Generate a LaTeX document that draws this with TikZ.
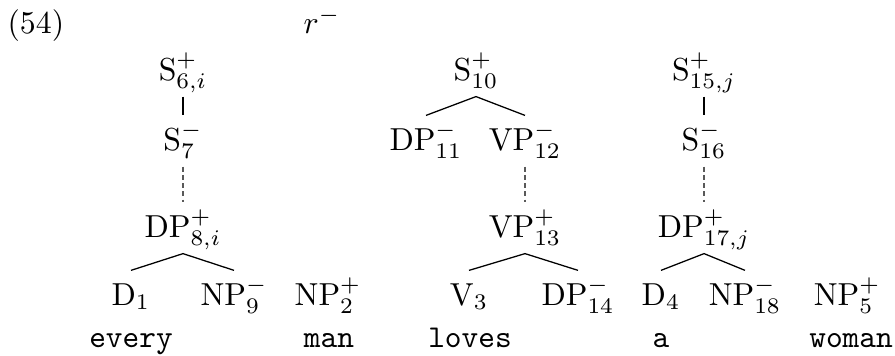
\documentclass[tikz,border=0pt]{standalone}
\usepackage{tikz}
\tikzset{
  catlabel/.style={anchor=base, inner sep=0pt, text height=10.7pt, text depth=5pt},
  wordlabel/.style={anchor=base, inner sep=0pt, font=\ttfamily},
  branch/.style={draw=black, line width=0.4pt},
  chain/.style={draw=black!65, line width=0.4pt, dash pattern=on 1.6pt off 1pt},
}
\begin{document}
\begin{tikzpicture}
\useasboundingbox (0,0) rectangle (9.894,3.925);
\node[anchor=base west, inner sep=0pt] (ex) at (0.077,3.560) {(54)};
\node[anchor=base, inner sep=0pt] (rmin) at (3.560,3.560) {$r^-$};
\node[catlabel] (s6) at (2.023,3.040) {S$^+_{6,i}$};
\node[catlabel] (s7) at (2.023,2.266) {S$^-_{7}$};
\node[catlabel] (dp8) at (2.023,1.304) {DP$^+_{8,i}$};
\node[catlabel] (d1) at (1.448,0.553) {D$_1$};
\node[catlabel] (np9) at (2.587,0.553) {NP$^-_{9}$};
\node[catlabel] (np2) at (3.626,0.553) {NP$^+_{2}$};
\node[catlabel] (s10) at (5.262,3.040) {S$^+_{10}$};
\node[catlabel] (dp11) at (4.709,2.266) {DP$^-_{11}$};
\node[catlabel] (vp12) at (5.804,2.266) {VP$^-_{12}$};
\node[catlabel] (vp13) at (5.804,1.304) {VP$^+_{13}$};
\node[catlabel] (v3) at (5.185,0.553) {V$_3$};
\node[catlabel] (dp14) at (6.390,0.553) {DP$^-_{14}$};
\node[catlabel] (s15) at (7.783,3.040) {S$^+_{15,j}$};
\node[catlabel] (s16) at (7.783,2.266) {S$^-_{16}$};
\node[catlabel] (dp17) at (7.783,1.304) {DP$^+_{17,j}$};
\node[catlabel] (d4) at (7.307,0.553) {D$_4$};
\node[catlabel] (np18) at (8.236,0.553) {NP$^-_{18}$};
\node[catlabel] (np5) at (9.364,0.553) {NP$^+_{5}$};
\node[wordlabel] (every) at (1.448,0.088) {every};
\node[wordlabel] (man) at (3.637,0.088) {man};
\node[wordlabel] (loves) at (5.196,0.088) {loves};
\node[wordlabel] (a) at (7.307,0.088) {a};
\node[wordlabel] (woman) at (9.408,0.088) {woman};
\draw[branch] (s6.south) -- (s7.north);
\draw[chain] (s7.south) -- (dp8.north);
\draw[branch] (d1.north) -- (dp8.south) -- (np9.north);
\draw[branch] (dp11.north) -- (s10.south) -- (vp12.north);
\draw[chain] (vp12.south) -- (vp13.north);
\draw[branch] (v3.north) -- (vp13.south) -- (dp14.north);
\draw[branch] (s15.south) -- (s16.north);
\draw[chain] (s16.south) -- (dp17.north);
\draw[branch] (d4.north) -- (dp17.south) -- (np18.north);
\end{tikzpicture}
\end{document}
